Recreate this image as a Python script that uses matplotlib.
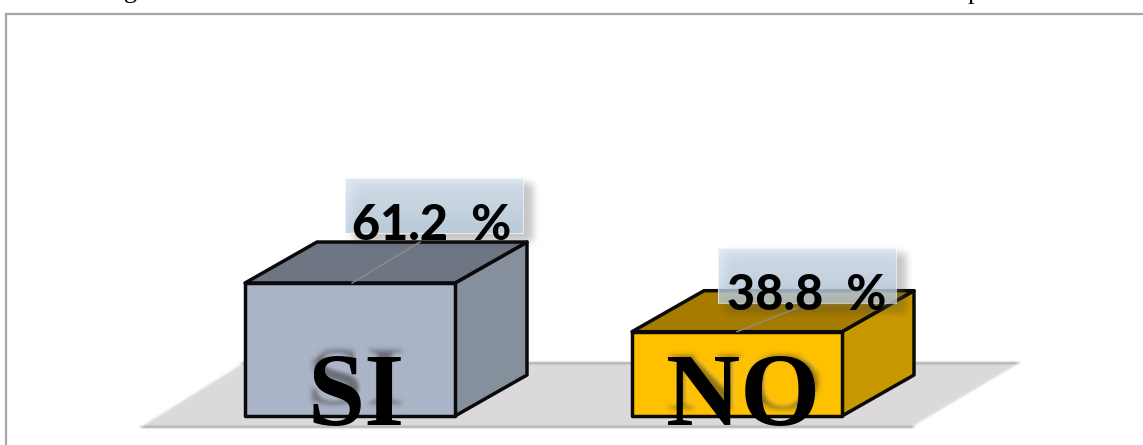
import numpy as np
import matplotlib
matplotlib.use("Agg")
import matplotlib.pyplot as plt
from matplotlib.patches import Polygon, Rectangle, PathPatch
from matplotlib.textpath import TextPath
from matplotlib.font_manager import FontProperties
from matplotlib.transforms import Affine2D
from matplotlib.lines import Line2D

# ---- data -------------------------------------------------------------
categories = ["SI", "NO"]
values = [61.2, 38.8]
value_labels = [f"{v:.1f}  %" for v in values]

# ---- layout (pixels) --------------------------------------------------
W, H = 1143, 445
BASE_ROW = 416.0            # pixel row of the 0 % baseline
PX_PER_PCT = 2.173          # vertical scale
bar_centers = [350, 737]
bar_width = 210
depth_x = 72                # 3-D depth, pixels
depth_y_px = 41

front_colors = ["#aab4c7", "#ffc000"]
top_colors = ["#6f7683", "#a67c00"]
side_colors = ["#868f9c", "#c99700"]

# label boxes: (left, top, right, bottom) pixel cols/rows
label_boxes = [(345, 178, 523, 233), (718, 248, 896, 303)]
label_text_pos = [(352, 240), (727, 310)]
leader_end = [(420, 242), (797, 308)]
leader_start_dx = [2, 0]


def y_of(row):
    """pixel row (from top) -> value axis units"""
    return (BASE_ROW - row) / PX_PER_PCT


def blur(sigma):
    def _filter(im, dpi):
        r = int(3 * sigma) + 1
        x = np.arange(-r, r + 1)
        k = np.exp(-x ** 2 / (2.0 * sigma ** 2))
        k /= k.sum()
        h, w = im.shape[:2]
        p = np.pad(im, [(2 * r, 2 * r), (2 * r, 2 * r), (0, 0)])
        tmp = sum(k[i] * p[i:i + h + 2 * r, :, :] for i in range(2 * r + 1))
        out = sum(k[i] * tmp[:, i:i + w + 2 * r, :] for i in range(2 * r + 1))
        return out, -r, -r
    return _filter


fig = plt.figure(figsize=(W / 100, H / 100), dpi=100)
ax = fig.add_axes([0, 0, 1, 1])
ax.set_xlim(0, W)
ax.set_ylim(y_of(H), y_of(0))
ax.axis("off")

depth_y = depth_y_px / PX_PER_PCT

# floor
floor = Polygon([(140, y_of(427)), (912, y_of(427)), (1020, y_of(363)), (243, y_of(363))],
                closed=True, facecolor="#dcdadc", edgecolor="none", zorder=1)
floor.set_agg_filter(blur(1.2))
ax.add_patch(floor)

serif_bold = FontProperties(family="Liberation Serif", weight="bold")
edge_kw = dict(edgecolor="#0a0a0a", linewidth=2.5, joinstyle="round", zorder=3)

for i, (cat, v) in enumerate(zip(categories, values)):
    x0 = bar_centers[i] - bar_width / 2
    x1 = bar_centers[i] + bar_width / 2
    front = Polygon([(x0, 0), (x1, 0), (x1, v), (x0, v)], facecolor=front_colors[i], **edge_kw)
    top = Polygon([(x0, v), (x1, v), (x1 + depth_x, v + depth_y), (x0 + depth_x, v + depth_y)],
                  facecolor=top_colors[i], **edge_kw)
    side = Polygon([(x1, 0), (x1 + depth_x, depth_y), (x1 + depth_x, v + depth_y), (x1, v)],
                   facecolor=side_colors[i], **edge_kw)
    for p in (side, top, front):
        ax.add_patch(p)

    # soft perspective shadow of the category word
    tp = TextPath((0, 0), cat, size=103, prop=serif_bold)
    ext = tp.get_extents()
    cx = bar_centers[i] + 7
    squash = 0.78
    shadow_bottom = y_of(404 if i == 0 else 409)
    tr = (Affine2D().translate(-(ext.x0 + ext.x1) / 2, -ext.y0)
          .scale(1.0, squash / PX_PER_PCT)
          .translate(cx, shadow_bottom) + ax.transData)
    sh = PathPatch(tp, transform=tr, facecolor=(0.15, 0.15, 0.15, 0.5),
                   edgecolor="none", zorder=4)
    sh.set_agg_filter(blur(2.6))
    ax.add_patch(sh)

    ax.text(bar_centers[i] + 6, y_of(424.5), cat, ha="center", va="baseline",
            fontsize=74, family="Liberation Serif", weight="bold", color="black", zorder=5)

# value labels with boxes and leader lines
grad = np.linspace(0, 1, 64).reshape(-1, 1)
top_rgb = np.array([0.84, 0.89, 0.95])
bot_rgb = np.array([0.72, 0.80, 0.87])
grad_img = (top_rgb + (bot_rgb - top_rgb) * grad[..., None]).reshape(64, 1, 3)

for i, v in enumerate(values):
    l, t, r, b = label_boxes[i]
    shadow = Rectangle((l + 9, y_of(b + 8)), r - l, y_of(t + 6) - y_of(b + 8),
                       facecolor=(0.35, 0.35, 0.35, 0.35), edgecolor="none", zorder=6)
    shadow.set_agg_filter(blur(4.0))
    ax.add_patch(shadow)
    ax.imshow(grad_img, extent=(l, r, y_of(b), y_of(t)), aspect="auto",
              alpha=0.78, zorder=7, interpolation="bilinear")
    ax.add_patch(Rectangle((l, y_of(b)), r - l, y_of(t) - y_of(b), facecolor="none",
                           edgecolor=(1, 1, 1, 0.6), linewidth=0.8, zorder=7.5))

    sx = bar_centers[i] + leader_start_dx[i]
    ex, ey = leader_end[i]
    ax.plot([sx, ex], [v, y_of(ey)], color="#8c8c8c", linewidth=1.0, zorder=8)

    tx, ty = label_text_pos[i]
    ax.text(tx, y_of(ty), value_labels[i], ha="left", va="baseline", fontsize=35,
            family="Lato", weight="black", color="black", zorder=9)

# frame and the clipped caption line above it
fig.add_artist(Line2D([5.5 / W, 1.0], [1 - 13.5 / H, 1 - 13.5 / H], color="#a6a6a6", linewidth=1.6))
fig.add_artist(Line2D([5.5 / W, 5.5 / W], [0.0, 1 - 13.5 / H], color="#a6a6a6", linewidth=1.6))
fig.text(124 / W, 1 + 2.0 / H, "g", fontsize=19, family="Liberation Serif", va="baseline", ha="left")
fig.text(968 / W, 1 + 0.5 / H, "p", fontsize=19, family="Liberation Serif", va="baseline", ha="left")

ax.set_ylim(y_of(H), y_of(0))
fig.savefig("out.png", dpi=100)
